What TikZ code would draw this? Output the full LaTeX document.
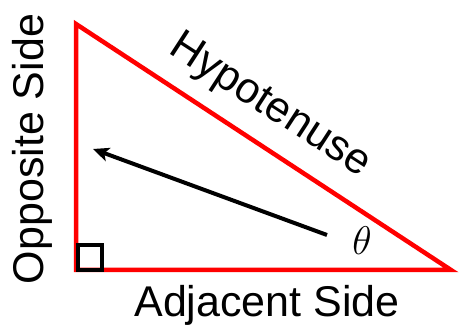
\RequirePackage{fix-cm}
\documentclass[tikz,border=0pt]{standalone}
\usepackage{fontspec}
\setmainfont{Liberation Sans}
\usetikzlibrary{arrows.meta}
\begin{document}
\begin{tikzpicture}[x=1pt,y=1pt,
  side/.style={draw=red,line width=4.5pt,line join=miter},
  lbl/.style={inner sep=0pt,font=\fontsize{43}{50}\selectfont},
  ptr/.style={draw=black,line width=4pt,-{Stealth[length=16pt,width=14pt,inset=4pt]}}]
\useasboundingbox (0,0) rectangle (459,329);
\coordinate (A) at (76,305);
\coordinate (B) at (76,59);
\coordinate (C) at (451,59);
\draw[side] (A) -- (B) -- (C) -- cycle;
\draw[black,line width=4pt] (78,59) rectangle (102,84);
\coordinate (s) at (327,94);
\coordinate (e) at (93,180);
\draw[ptr] (s) -- (e);
\node[lbl,anchor=center,font=\fontsize{40}{48}\selectfont] (theta) at (362,88) {$\theta$};
\node[lbl,anchor=base,rotate=-33] (hyp) at (264,214) {Hypotenuse};
\node[lbl,anchor=base] (adj) at (267,12) {Adjacent Side};
\node[lbl,anchor=base,rotate=90] (opp) at (43,180) {Opposite Side};
\end{tikzpicture}
\end{document}
